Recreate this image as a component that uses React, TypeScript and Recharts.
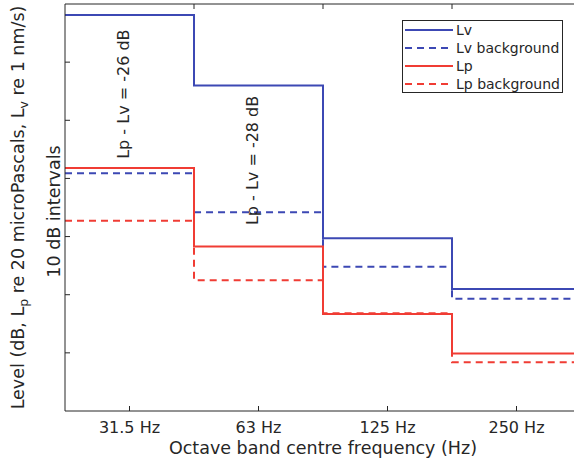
import React from 'react';
import { LineChart, Line, XAxis, YAxis, ReferenceDot, Legend } from 'recharts';

// octave bands and measured levels (dB, one value per band)
const bandLabels = ['31.5 Hz', '63 Hz', '125 Hz', '250 Hz'];
const lv = [68.1, 56.0, 29.7, 21.0];
const lvBackground = [40.9, 34.2, 24.8, 19.3];
const lp = [41.8, 28.3, 16.7, 9.9];
const lpBackground = [32.7, 22.5, 16.8, 8.4];

const yTicks = [10, 20, 30, 40, 50, 60];

const notes = [
  { text: 'Lp - Lv  =  -26 dB', band: 0.95, level: 54.5 },
  { text: 'Lp - Lv  =  -28 dB', band: 1.95, level: 43.1 },
];

const BLUE = '#3c48b4';
const RED = '#f03c34';
const INK = '#262626';
const FONT = '"DejaVu Sans", sans-serif';

const series = [
  { key: 'lv', name: 'Lv', color: BLUE, dash: undefined },
  { key: 'lvBackground', name: 'Lv background', color: BLUE, dash: '7 5' },
  { key: 'lp', name: 'Lp', color: RED, dash: undefined },
  { key: 'lpBackground', name: 'Lp background', color: RED, dash: '7 5' },
];

// band edges: step starts at each lower edge, last row closes the final band
const data = [0, 1, 2, 3, 4].map(i => {
  const b = Math.min(i, bandLabels.length - 1);
  return {
    edge: i + 0.5,
    lv: lv[b],
    lvBackground: lvBackground[b],
    lp: lp[b],
    lpBackground: lpBackground[b],
  };
});

const NoLabel = () => <g />;

const YLabel = (props: any) => {
  const vb = props.viewBox || { y: 4, height: 407 };
  const cy = vb.y + vb.height / 2;
  return (
    <g fill={INK} fontSize={17.5}>
      <text transform={`translate(24,${cy}) rotate(-90)`} textAnchor="middle">
        Level (dB, L<tspan dy={4} fontSize={12.5}>p</tspan>
        <tspan dy={-4}> re 20 microPascals, L</tspan>
        <tspan dy={4} fontSize={12.5}>v</tspan>
        <tspan dy={-4}> re 1 nm/s)</tspan>
      </text>
      <text transform={`translate(60,${cy + 4}) rotate(-90)`} textAnchor="middle">
        10 dB intervals
      </text>
    </g>
  );
};

const LegendBox = () => (
  <div
    style={{
      width: 161,
      height: 73,
      border: `1px solid ${INK}`,
      background: '#fff',
      boxSizing: 'border-box',
      padding: '0 0 0 1px',
      fontFamily: FONT,
      fontSize: 14,
      color: INK,
    }}
  >
    {series.map(s => (
      <div key={s.key} style={{ height: 18, display: 'flex', alignItems: 'center' }}>
        <svg width={49} height={18}>
          <line x1={1} x2={49} y1={9} y2={9} stroke={s.color} strokeWidth={2} strokeDasharray={s.dash} />
        </svg>
        <span style={{ marginLeft: 3, lineHeight: '18px' }}>{s.name}</span>
      </div>
    ))}
  </div>
);

export default function App() {
  return (
    <div
      style={{
        position: 'absolute',
        left: 0,
        top: 0,
        width: 574,
        height: 462,
        overflow: 'hidden',
        background: '#fff',
        fontFamily: FONT,
      }}
    >
      <LineChart width={581} height={462} data={data} margin={{ top: 3, right: 0, bottom: 0, left: 0 }}>
        <XAxis
          xAxisId={0}
          dataKey="edge"
          type="number"
          domain={[0.5, 4.5]}
          ticks={[1, 2, 3, 4]}
          tickFormatter={(v: number) => bandLabels[v - 1]}
          height={51}
          tickSize={-5}
          tickMargin={16}
          stroke={INK}
          tick={{ fill: INK, fontSize: 16 }}
          label={{
            value: 'Octave band centre frequency (Hz)',
            position: 'insideBottom',
            offset: 8,
            fill: INK,
            fontSize: 17.5,
          }}
        />
        <XAxis
          xAxisId="top"
          orientation="top"
          type="number"
          domain={[0.5, 4.5]}
          ticks={[1, 2, 3, 4]}
          height={1}
          tickSize={-5}
          tick={NoLabel}
          stroke={INK}
        />
        <YAxis
          type="number"
          domain={[0, 70]}
          ticks={yTicks}
          width={65}
          tickSize={-5}
          tick={NoLabel}
          stroke={INK}
          label={{ content: (p: any) => <YLabel {...p} /> }}
        />
        {series.map(s => (
          <Line
            key={s.key}
            xAxisId={0}
            dataKey={s.key}
            name={s.name}
            type="stepAfter"
            stroke={s.color}
            strokeWidth={2}
            strokeDasharray={s.dash}
            dot={false}
            activeDot={false}
            isAnimationActive={false}
          />
        ))}
        {notes.map(n => (
          <ReferenceDot
            key={n.text}
            xAxisId={0}
            x={n.band}
            y={n.level}
            r={0}
            fill="none"
            stroke="none"
            label={{ value: n.text, angle: -90, position: 'center', fill: INK, fontSize: 16 }}
          />
        ))}
        <Legend
          layout="vertical"
          align="center"
          verticalAlign="middle"
          wrapperStyle={{ top: 20, left: 402, width: 161, height: 73 }}
          content={() => <LegendBox />}
        />
      </LineChart>
    </div>
  );
}
